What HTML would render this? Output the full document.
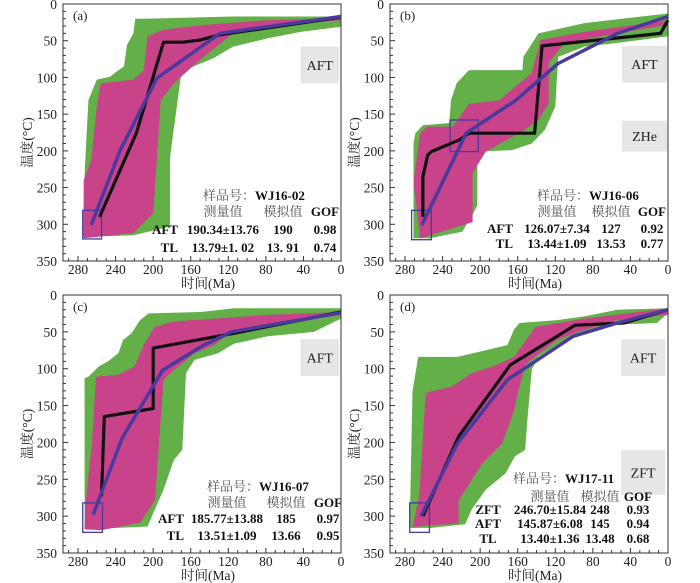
<!DOCTYPE html>
<html><head><meta charset="utf-8">
<style>
html,body{margin:0;padding:0;background:#fff;}
svg{display:block;font-family:"Liberation Serif","Noto Serif CJK SC","Noto Sans CJK SC",serif;}
</style></head>
<body>
<svg id="chart" width="700" height="583" viewBox="0 0 700 583" xmlns="http://www.w3.org/2000/svg"></svg>
<script>
// ---- data (Ma, °C) ----
const xTicks = [280, 240, 200, 160, 120, 80, 40, 0];
const yTicks = [0, 50, 100, 150, 200, 250, 300, 350];

const aGreen = [[219,20],[221,40],[228,56],[231,85],[239,92],[246,99],[260,103],[269,131],[273,231],[275,317],[221,315],[182,303],[182,208],[170,94],[157,85],[136,74],[115,58],[79,47],[43,38],[0,31],[0,17],[115,17],[210,20]];
const aPink = [[274,240],[266,212],[260,140],[256,108],[221,103],[210,90],[206,44],[189,35],[150,29],[79,22],[0,19],[0,22],[43,26],[115,40],[150,76],[178,108],[192,131],[200,285],[221,312],[274,319]];
const aBest = [[257,290],[218,176],[189,52],[168,52],[150,49],[129,42],[0,18]];
const aMean = [[266,301],[235,199],[196,101],[129,40],[0,17]];

const bGreen = [[271,319],[271,190],[269,176],[261,165],[233,162],[231,131],[225,108],[212,90],[155,90],[154,72],[145,54],[138,40],[89,26],[0,13],[0,44],[54,53],[89,58],[117,72],[120,140],[131,171],[145,190],[166,199],[203,201],[203,274],[208,287],[219,310],[254,319]];
const bPink = [[271,242],[264,176],[257,167],[229,167],[212,136],[180,131],[145,94],[136,49],[89,38],[0,22],[0,28],[54,40],[110,53],[127,80],[127,135],[138,158],[152,171],[194,201],[208,230],[208,297],[264,319]];
const bBest = [[261,290],[261,235],[256,206],[252,201],[222,185],[212,176],[142,176],[134,57],[89,51],[8,40],[0,22]];
const bMean = [[262,301],[215,176],[162,131],[117,81],[54,40],[0,17]];

const cGreen = [[273,318],[273,113],[269,111],[258,97],[248,90],[237,79],[232,61],[223,52],[214,34],[205,25],[149,23],[114,18],[0,18],[0,32],[29,50],[78,56],[114,66],[131,79],[156,88],[165,106],[169,210],[178,224],[189,264],[206,314]];
const cPink = [[273,318],[272,282],[265,199],[261,111],[237,108],[220,97],[209,65],[198,43],[178,36],[78,27],[0,23],[0,27],[43,36],[114,47],[135,68],[156,79],[178,102],[189,115],[198,278],[214,309],[255,319]];
const cBest = [[255,273],[252,165],[200,154],[200,72],[114,52],[0,23]];
const cMean = [[264,298],[233,194],[190,102],[149,70],[117,50],[0,24]];

const dGreen = [[275,314],[272,131],[266,84],[224,84],[171,68],[164,47],[158,38],[118,34],[89,29],[54,20],[0,18],[0,25],[12,38],[54,40],[89,52],[110,61],[138,84],[145,101],[150,174],[152,210],[163,219],[173,242],[194,264],[209,291],[216,311],[252,316],[275,316]];
const dPink = [[272,316],[265,273],[258,133],[230,124],[209,106],[187,97],[164,84],[141,43],[89,32],[0,18],[0,27],[54,34],[96,50],[118,61],[142,84],[152,95],[156,115],[161,138],[163,153],[173,189],[177,202],[198,229],[209,251],[223,279],[223,310],[261,313]];
const dBest = [[261,300],[223,192],[168,95],[99,41],[47,38],[0,20]];
const dMean = [[263,300],[224,201],[171,115],[101,56],[54,38],[0,20]];

const panels = [
 {id:'a',L:63,R:341,T:4,B:261,green:aGreen,pink:aPink,best:aBest,mean:aMean,
  boxes:[[275,255,281,320]], labels:[['AFT',43,2,58,108]],
  sample:'WJ16-02', rows:[['AFT','190.34±13.76','190','0.98'],['TL','13.79±1. 02','13. 91','0.74']],
  tx:{s:200,lab:115,m:160,mo:220,g:262}, ty:[196,212,230,248], labAnchor:'end'},
 {id:'b',L:390,R:668,T:4,B:261,green:bGreen,pink:bPink,best:bBest,mean:bMean,
  boxes:[[273,252,281,321],[232,202,158,201]], labels:[['AFT',49,1,57,107],['ZHe',49,1,159,201]],
  sample:'WJ16-06', rows:[['AFT','126.07±7.34','127','0.92'],['TL','13.44±1.09','13.53','0.77']],
  tx:{s:207,lab:123,m:167,mo:221,g:262}, ty:[196,212,229,244], labAnchor:'end'},
 {id:'c',L:63,R:341,T:295,B:553,green:cGreen,pink:cPink,best:cBest,mean:cMean,
  boxes:[[275,254,282,322]], labels:[['AFT',43,2,60,110]],
  sample:'WJ16-07', rows:[['AFT','185.77±13.88','185','0.97'],['TL','13.51±1.09','13.66','0.95']],
  tx:{s:204,lab:121,m:164,mo:223,g:265}, ty:[196,212,228,245], labAnchor:'end'},
 {id:'d',L:390,R:668,T:295,B:553,green:dGreen,pink:dPink,best:dBest,mean:dMean,
  boxes:[[275,254,282,322]], labels:[['AFT',50,3,60,110],['ZFT',50,3,210,271]],
  sample:'WJ17-11', rows:[['ZFT','246.70±15.84','248','0.93'],['AFT','145.87±6.08','145','0.94'],['TL','13.40±1.36','13.48','0.68']],
  tx:{s:183,lab:98,m:160,mo:210,g:248}, ty:[188,206,219,233,248], labAnchor:'middle'}
];

const NS='http://www.w3.org/2000/svg';
const svg=document.getElementById('chart');
function mk(tag,attrs,parent){const e=document.createElementNS(NS,tag);for(const k in attrs)e.setAttribute(k,attrs[k]);(parent||svg).appendChild(e);return e;}
function txt(s,x,y,attrs,parent){const e=mk('text',Object.assign({x:x,y:y},attrs),parent);e.textContent=s;return e;}

panels.forEach(p=>{
  const g=mk('g',{});
  
  
  const xs=m=>p.R-m*(p.R-p.L)/296;
  const ys=t=>p.T+t*(p.B-p.T)/350;
  const pts=a=>a.map(q=>xs(q[0]).toFixed(1)+','+ys(q[1]).toFixed(1)).join(' ');
  const gr=mk('polygon',{points:pts(p.green),fill:'#62b047'},g);
  
  
  const pk=mk('polygon',{points:pts(p.pink),fill:'#c9438b'},g);
  
  
  p.labels.forEach(l=>{
    const r=mk('rect',{x:xs(l[1]),y:ys(l[3]),width:xs(l[2])-xs(l[1]),height:ys(l[4])-ys(l[3]),fill:'#e6e6e6'},g);
    
    
    const t=txt(l[0],(xs(l[1])+xs(l[2]))/2,(ys(l[3])+ys(l[4]))/2+5,{'font-size':14,'text-anchor':'middle',fill:'#222'},g);
    
    
  });
  p.boxes.forEach(b=>{
    const r=mk('rect',{x:xs(b[0]),y:ys(b[2]),width:xs(b[1])-xs(b[0]),height:ys(b[3])-ys(b[2]),fill:'none',stroke:'#4a3a9c','stroke-width':1.3},g);
    
    
  });
  const bl=mk('polyline',{points:pts(p.best),fill:'none',stroke:'#111','stroke-width':3.2,'stroke-linejoin':'round'},g);
  
  
  const mn=mk('polyline',{points:pts(p.mean),fill:'none',stroke:'#4b3a9e','stroke-width':3.5,'stroke-linejoin':'round'},g);
  
  
  const fr=mk('rect',{x:p.L,y:p.T,width:p.R-p.L,height:p.B-p.T,fill:'none',stroke:'#333','stroke-width':1},g);
  
  
  for(let t=0;t<=350;t+=10){
    const major=t%50===0;
    mk('line',{x1:p.L,x2:p.L+(major?5:3),y1:ys(t),y2:ys(t),stroke:'#333','stroke-width':1},g);
  }
  yTicks.forEach(t=>{
    const e=txt(String(t),p.L-6,ys(t)+5,{'font-size':13.5,'text-anchor':'end',fill:'#222'},g);
    
    
  });
  for(let m=0;m<=290;m+=10){
    const major=m%40===0;
    mk('line',{x1:xs(m),x2:xs(m),y1:p.B,y2:p.B-(major?5:3),stroke:'#333','stroke-width':1},g);
  }
  xTicks.forEach(m=>{
    const e=txt(String(m),xs(m),p.B+13,{'font-size':13.5,'text-anchor':'middle',fill:'#222'},g);
    
    
  });
  const xl=txt('时间(Ma)',(p.L+p.R)/2+6,p.B+27,{'font-size':13.5,'text-anchor':'middle',fill:'#222'},g);
  
  
  const ylx=p.L-31, yly=(p.T+p.B)/2+10;
  const yl=txt('温度(°C)',ylx,yly,{'font-size':13.5,'text-anchor':'middle',fill:'#222',transform:'rotate(-90 '+ylx+' '+yly+')'},g);
  
  
  const pl=txt('('+p.id+')',p.L+10,p.T+16,{'font-size':13,fill:'#222'},g);
  
  
  const X=v=>p.L+v, Y=v=>p.T+v;
  const sl=txt('样品号：',X(p.tx.s)-8,Y(p.ty[0]),{'font-size':13,'text-anchor':'end',fill:'#555'},g);
  
  
  const sid=txt(p.sample,X(p.tx.s)-8,Y(p.ty[0]),{'font-size':13,'font-weight':'bold',fill:'#111'},g);
  
  
  const hdr=[['测量值',p.tx.m,'normal','#555'],['模拟值',p.tx.mo,'normal','#555'],['GOF',p.tx.g,'bold','#111']];
  hdr.forEach(h=>{
    const e=txt(h[0],X(h[1]),Y(p.ty[1]),{'font-size':13,'text-anchor':'middle','font-weight':h[2],fill:h[3]},g);
    
    
  });
  p.rows.forEach((r,i)=>{
    const y=Y(p.ty[i+2]);
    const a=txt(r[0],X(p.tx.lab),y,{'font-size':13,'text-anchor':p.labAnchor,'font-weight':'bold',fill:'#111'},g);
    
    
    [[r[1],p.tx.m],[r[2],p.tx.mo],[r[3],p.tx.g]].forEach(c=>{
      const e=txt(c[0],X(c[1]),y,{'font-size':13,'text-anchor':'middle','font-weight':'bold',fill:'#111'},g);
      
      
    });
  });
});
</script>
</body></html>
